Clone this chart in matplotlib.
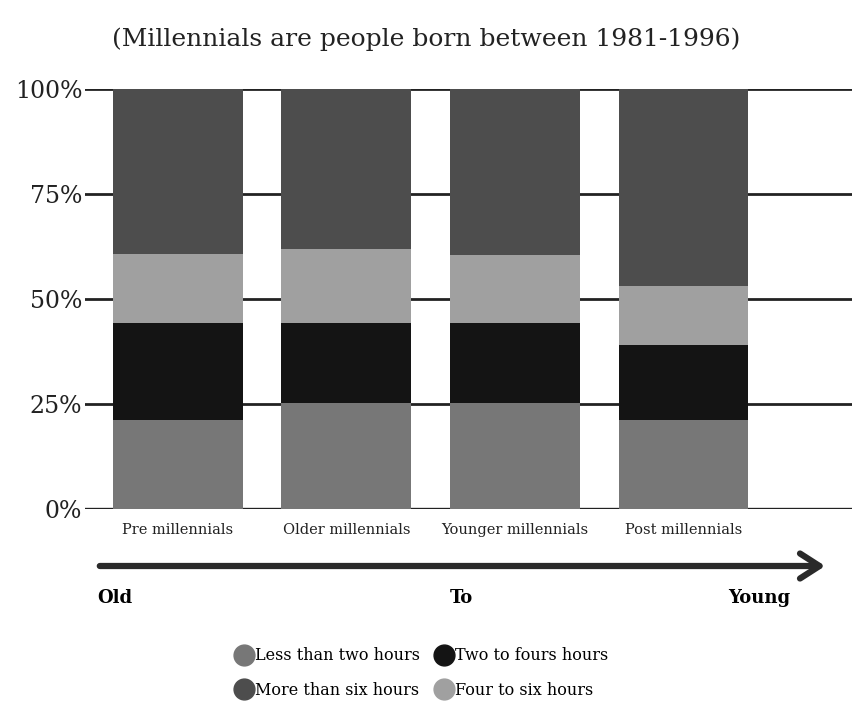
import numpy as np
import matplotlib.pyplot as plt
from matplotlib.lines import Line2D
from matplotlib.patches import FancyArrowPatch

# ---------------------------------------------------------------------
# Data (percent of each group)
# ---------------------------------------------------------------------
groups = ['Pre millennials', 'Older millennials', 'Younger millennials', 'Post millennials']
less_two = [21.2, 25.2, 25.2, 21.2]
two_four = [23.0, 19.0, 19.0, 17.8]
four_six = [16.4, 17.7, 16.3, 14.2]
more_six = [39.4, 38.1, 39.5, 46.8]
yticks = [0, 25, 50, 75, 100]
ytick_labels = ['0%', '25%', '50%', '75%', '100%']

series = [
    ('Less than two hours', less_two, '#777777'),
    ('Two to fours hours', two_four, '#141414'),
    ('Four to six hours', four_six, '#a0a0a0'),
    ('More than six hours', more_six, '#4d4d4d'),
]

plt.rcParams['font.family'] = ['DejaVu Serif']

W, H = 852, 707
fig = plt.figure(figsize=(W / 100, H / 100), dpi=100)
ax = fig.add_axes([85 / W, 1 - 509 / H, 1 - 85 / W, (509 - 89) / H])

x = np.arange(len(groups))
bottom = np.zeros(len(groups))
for name, vals, col in series:
    ax.bar(x, vals, width=0.77, bottom=bottom, color=col, zorder=2)
    bottom += np.array(vals)

# horizontal rules behind the bars
for yv in yticks:
    ax.axhline(yv, color='#222222', lw=2.0 if yv else 2.4, zorder=1)

ax.set_xlim(-0.55, 4.0)
ax.set_ylim(0, 100)
for s in ax.spines.values():
    s.set_visible(False)
ax.set_yticks(yticks)
ax.set_yticklabels(ytick_labels, fontsize=17, color='#222222')
ax.tick_params(axis='y', length=0, pad=2)
ax.set_xticks(x)
ax.set_xticklabels(groups, fontsize=10.5, color='#222222')
ax.tick_params(axis='x', length=0, pad=10)

fig.text(426 / W, 1 - 39 / H, '(Millennials are people born between 1981-1996)',
         ha='center', va='center', fontsize=18, color='#222222')

# Old -> Young arrow
arrow = FancyArrowPatch((97 / W, 1 - 566 / H), (828 / W, 1 - 566 / H),
                        transform=fig.transFigure, arrowstyle='->,head_length=14,head_width=9',
                        lw=4.5, color='#2a2a2a', mutation_scale=1)
fig.patches.append(arrow)
fig.text(97 / W, 1 - 598 / H, 'Old', fontsize=13, fontweight='bold', va='center', ha='left')
fig.text(450 / W, 1 - 598 / H, 'To', fontsize=13, fontweight='bold', va='center', ha='left')
fig.text(790 / W, 1 - 598 / H, 'Young', fontsize=13, fontweight='bold', va='center', ha='right')

# legend: column order Less/More, Two/Four
order = [0, 3, 1, 2]
handles = [Line2D([], [], marker='o', linestyle='none', markersize=15,
                  markerfacecolor=series[i][2], markeredgecolor=series[i][2]) for i in order]
labels = [series[i][0] for i in order]
fig.legend(handles, labels, ncol=2, loc='center', bbox_to_anchor=(421 / W, 1 - 673 / H),
           frameon=False, fontsize=11.5, handletextpad=0.05, columnspacing=0.8,
           labelspacing=1.1, handlelength=1.3)

fig.savefig('out.png', dpi=100)
